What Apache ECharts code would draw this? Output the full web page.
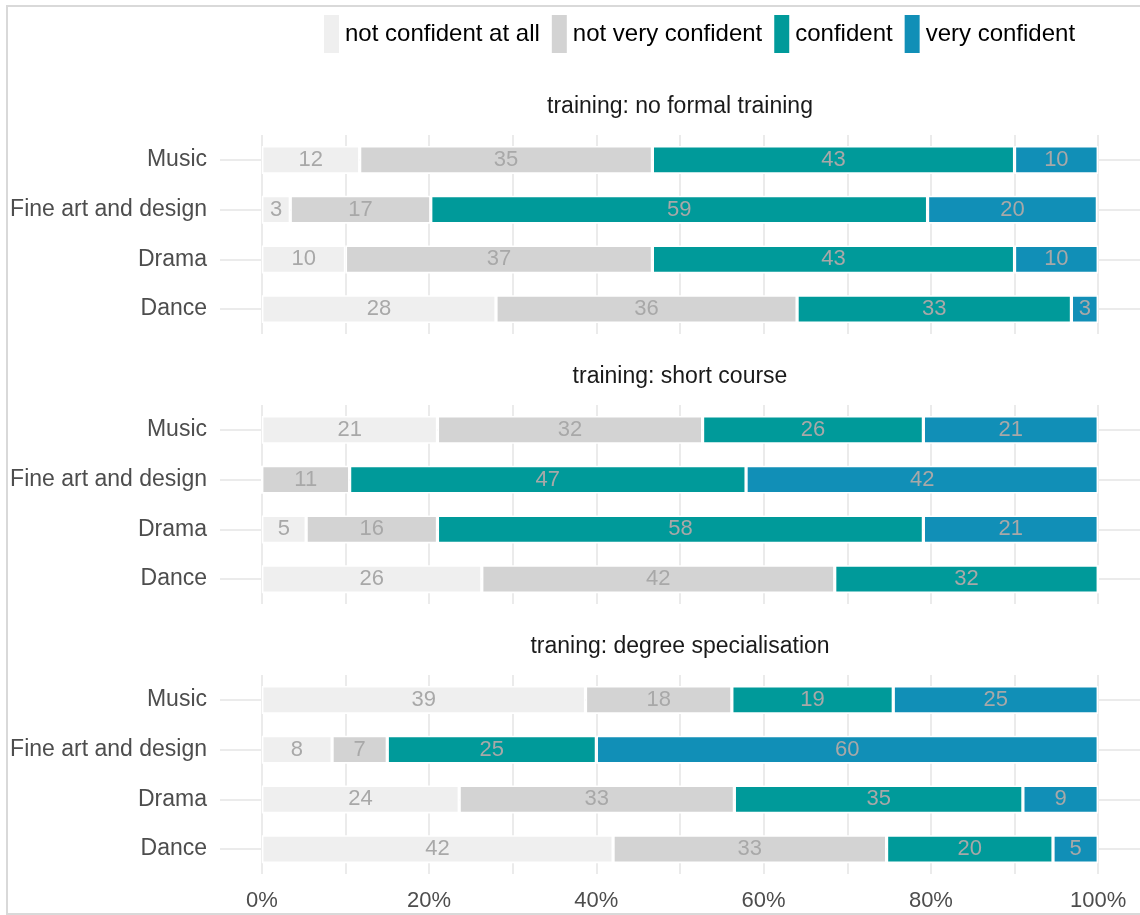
<!DOCTYPE html>
<html>
<head>
<meta charset="utf-8">
<script src="https://cdn.jsdelivr.net/npm/echarts@6/dist/echarts.min.js"></script>
<style>html,body{margin:0;padding:0;background:#fff}#c{width:1140px;height:915px}</style>
</head>
<body>
<div id="c"></div>
<script>
const categories = ['Music', 'Fine art and design', 'Drama', 'Dance'];
const levels = ['not confident at all', 'not very confident', 'confident', 'very confident'];
const facetTitles = ['training: no formal training', 'training: short course', 'traning: degree specialisation'];
const xTickValues = [0, 10, 20, 30, 40, 50, 60, 70, 80, 90, 100];
const xLabelValues = [0, 20, 40, 60, 80, 100];

// percentages per category (Music, Fine art and design, Drama, Dance)
const noFormal_notAtAll = [11.7, 3.4, 10.0, 28.0];
const noFormal_notVery = [35.0, 16.8, 36.7, 36.0];
const noFormal_confident = [43.3, 59.4, 43.3, 32.8];
const noFormal_very = [10.0, 20.3, 10.0, 3.2];

const short_notAtAll = [21.0, 0, 5.3, 26.3];
const short_notVery = [31.7, 10.5, 15.7, 42.2];
const short_confident = [26.4, 47.4, 58.1, 31.5];
const short_very = [20.9, 42.1, 20.9, 0];

const degree_notAtAll = [38.7, 8.4, 23.6, 42.0];
const degree_notVery = [17.5, 6.6, 32.9, 32.7];
const degree_confident = [19.3, 25.0, 34.5, 19.9];
const degree_very = [24.5, 60.0, 9.0, 5.4];

const facetData = [
  [noFormal_notAtAll, noFormal_notVery, noFormal_confident, noFormal_very],
  [short_notAtAll, short_notVery, short_confident, short_very],
  [degree_notAtAll, degree_notVery, degree_confident, degree_very]
];

const colors = ['#EFEFEF', '#D3D3D3', '#009A9A', '#118FB7'];
const FONT = "'Liberation Sans', Arial, sans-serif";
const gridTops = [135, 405, 675];
const titleYs = [107, 377, 647];

const grids = [], xAxes = [], yAxes = [], series = [];
facetData.forEach((levelsData, fi) => {
  grids.push({ left: 220, width: 921, top: gridTops[fi], height: 199, containLabel: false });
  xAxes.push({
    type: 'value', gridIndex: fi, min: -5, max: 105,
    axisLine: { show: false },
    axisTick: { show: false, customValues: xTickValues },
    splitLine: { show: true, lineStyle: { color: '#EBEBEB', width: 2 } },
    axisLabel: {
      show: fi === 2, customValues: xLabelValues, formatter: '{value}%',
      color: '#4D4D4D', fontSize: 22, fontFamily: FONT, margin: 16
    }
  });
  yAxes.push({
    type: 'category', gridIndex: fi, data: categories, inverse: true,
    axisLine: { show: false }, axisTick: { show: false }, splitLine: { show: false },
    axisLabel: { color: '#4D4D4D', fontSize: 23, fontFamily: FONT, margin: 13 }
  });
  series.push({
    type: 'line', xAxisIndex: fi, yAxisIndex: fi, data: [], silent: true, z: 1,
    markLine: {
      z: 1, silent: true, symbol: 'none', animation: false,
      label: { show: false },
      lineStyle: { color: '#EBEBEB', width: 2, type: 'solid' },
      data: categories.map((c, i) => ({ yAxis: i }))
    }
  });
  levelsData.forEach((vals, li) => {
    series.push({
      name: levels[li], type: 'bar', stack: 'f' + fi,
      xAxisIndex: fi, yAxisIndex: fi, barWidth: 28, z: 3,
      data: vals,
      itemStyle: { color: colors[li], borderColor: '#ffffff', borderWidth: 1.6 },
      label: {
        show: true, position: 'inside', color: '#A8A8A8', fontSize: 22, fontFamily: FONT,
        formatter: p => (p.value > 0 ? String(Math.round(p.value)) : '')
      }
    });
  });
});

const graphics = [{
  type: 'rect', silent: true, z: -1,
  shape: { x: 7, y: 6, width: 1140, height: 908 },
  style: { fill: 'none', stroke: '#D9D9D9', lineWidth: 2 }
}];
facetTitles.forEach((t, i) => {
  graphics.push({
    type: 'text', silent: true,
    style: { text: t, x: 680, y: titleYs[i], textAlign: 'center', textVerticalAlign: 'middle',
      fill: '#1A1A1A', fontSize: 23, fontFamily: FONT }
  });
});

const chart = echarts.init(document.getElementById('c'), null, { renderer: 'canvas' });
chart.setOption({
  animation: false,
  backgroundColor: '#ffffff',
  legend: {
    data: levels, left: 322, top: 13, padding: 0, icon: 'rect', itemWidth: 17, itemHeight: 40, itemGap: 10,
    selectedMode: false,
    textStyle: { color: '#000000', fontSize: 24, fontFamily: FONT }
  },
  grid: grids, xAxis: xAxes, yAxis: yAxes, series: series, graphic: graphics
});
</script>
</body>
</html>
